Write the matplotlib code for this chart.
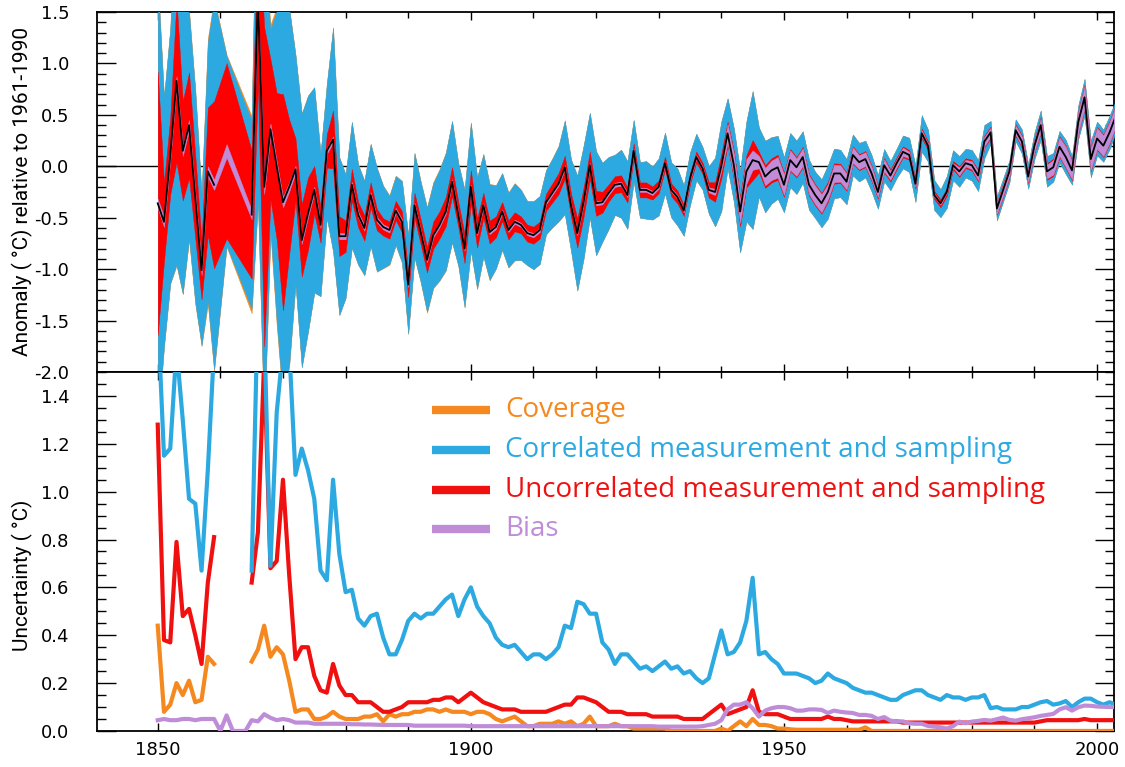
import numpy as np
import matplotlib
matplotlib.use("Agg")
import matplotlib.pyplot as plt
from matplotlib.ticker import MultipleLocator, FormatStrFormatter

plt.rcParams['axes.unicode_minus'] = False
plt.rcParams['font.family'] = ['DejaVu Sans']

nan = np.nan
years = np.arange(1850, 2004)

# global SST anomaly (degC, relative to 1961-1990)
anomaly = [
    -0.36, -0.54, 0.10, 0.83, 0.15, 0.40, -0.30, -1.01, -0.05, -0.18,
    nan, 0.15, nan, nan, nan, -0.47, 1.65, -0.20, 0.36, 0.00,
    -0.35, -0.20, -0.03, -0.72, -0.46, -0.23, -0.57, 0.15, 0.26, -0.68,
    -0.68, -0.18, -0.47, -0.60, -0.28, -0.52, -0.59, -0.62, -0.43, -0.54,
    -1.15, -0.38, -0.64, -0.91, -0.67, -0.57, -0.44, -0.15, -0.47, -0.80,
    -0.20, -0.65, -0.38, -0.64, -0.59, -0.44, -0.62, -0.54, -0.57, -0.65,
    -0.67, -0.62, -0.35, -0.26, -0.17, -0.01, -0.38, -0.65, -0.35, 0.01,
    -0.36, -0.35, -0.26, -0.18, -0.17, -0.28, 0.15, -0.23, -0.23, -0.26,
    -0.20, 0.03, -0.23, -0.30, -0.43, -0.12, 0.09, -0.02, -0.23, -0.25,
    0.00, 0.32, 0.01, -0.44, -0.05, 0.06, 0.04, -0.10, -0.04, -0.01,
    -0.18, 0.06, -0.01, 0.09, -0.18, -0.28, -0.36, -0.25, -0.07, -0.07,
    -0.15, 0.11, 0.04, 0.07, -0.07, -0.25, 0.01, -0.09, 0.03, 0.14,
    0.11, -0.17, 0.32, 0.20, -0.28, -0.36, -0.25, 0.01, -0.05, 0.03,
    0.01, -0.09, 0.24, 0.33, -0.41, -0.23, -0.05, 0.35, 0.24, -0.10,
    0.20, 0.40, -0.05, -0.01, 0.19, 0.09, -0.04, 0.43, 0.67, 0.07,
    0.27, 0.20, 0.33, 0.49,
]

# uncertainty components (degC)
coverage = [
    0.44, 0.08, 0.11, 0.20, 0.15, 0.21, 0.12, 0.13, 0.31, 0.28,
    nan, 0.15, nan, nan, nan, 0.29, 0.34, 0.44, 0.31, 0.35,
    0.32, 0.21, 0.08, 0.09, 0.09, 0.05, 0.05, 0.06, 0.08, 0.06,
    0.05, 0.05, 0.05, 0.06, 0.06, 0.07, 0.04, 0.07, 0.06, 0.07,
    0.07, 0.08, 0.08, 0.09, 0.09, 0.08, 0.09, 0.08, 0.08, 0.08,
    0.07, 0.08, 0.08, 0.07, 0.05, 0.04, 0.05, 0.06, 0.04, 0.02,
    0.02, 0.03, 0.03, 0.03, 0.04, 0.03, 0.04, 0.02, 0.03, 0.06,
    0.02, 0.02, 0.02, 0.03, 0.02, 0.02, 0.01, 0.01, 0.01, 0.01,
    0.01, 0.01, 0.0, 0.0, 0.0, 0.0, 0.0, 0.0, 0.0, 0.0,
    0.01, 0.0, 0.02, 0.04, 0.02, 0.05, 0.025, 0.025, 0.02, 0.01,
    0.01, 0.007, 0.005, 0.005, 0.005, 0.005, 0.005, 0.005, 0.005, 0.005,
    0.005, 0.005, 0.005, 0.015, 0.0, 0.0, 0.0, 0.0, 0.0, 0.0,
    0.0, 0.0, 0.0, 0.0, 0.0, 0.0, 0.0, 0.0, 0.0, 0.0,
    0.0, 0.0, 0.0, 0.0, 0.0, 0.0, 0.0, 0.0, 0.0, 0.0,
    0.0, 0.0, 0.0, 0.0, 0.0, 0.0, 0.0, 0.0, 0.0, 0.0,
    0.0, 0.0, 0.0, 0.0,
]

correlated = [
    1.75, 1.15, 1.18, 1.60, 1.30, 0.97, 0.95, 0.67, 1.09, 1.60,
    nan, 0.35, nan, nan, nan, 0.67, 1.80, 1.70, 0.69, 1.33,
    1.60, 1.60, 1.07, 1.18, 1.09, 0.97, 0.67, 0.63, 1.05, 0.74,
    0.58, 0.59, 0.47, 0.44, 0.48, 0.49, 0.39, 0.32, 0.32, 0.38,
    0.46, 0.49, 0.47, 0.49, 0.49, 0.52, 0.55, 0.57, 0.48, 0.55,
    0.60, 0.52, 0.48, 0.45, 0.39, 0.36, 0.35, 0.36, 0.33, 0.30,
    0.32, 0.32, 0.30, 0.32, 0.35, 0.44, 0.43, 0.54, 0.53, 0.49,
    0.49, 0.37, 0.34, 0.28, 0.32, 0.32, 0.29, 0.26, 0.27, 0.25,
    0.27, 0.29, 0.26, 0.27, 0.24, 0.25, 0.22, 0.20, 0.22, 0.32,
    0.42, 0.32, 0.33, 0.37, 0.46, 0.64, 0.32, 0.33, 0.30, 0.28,
    0.24, 0.24, 0.24, 0.23, 0.22, 0.20, 0.21, 0.24, 0.22, 0.21,
    0.20, 0.18, 0.17, 0.16, 0.16, 0.15, 0.14, 0.13, 0.13, 0.15,
    0.16, 0.17, 0.17, 0.15, 0.14, 0.13, 0.15, 0.14, 0.14, 0.13,
    0.14, 0.14, 0.15, 0.095, 0.10, 0.09, 0.09, 0.09, 0.10, 0.10,
    0.11, 0.12, 0.125, 0.11, 0.115, 0.125, 0.10, 0.12, 0.135, 0.135,
    0.12, 0.11, 0.12, 0.11,
]

uncorrelated = [
    1.28, 0.38, 0.37, 0.79, 0.48, 0.51, 0.40, 0.28, 0.62, 0.81,
    nan, 0.85, nan, nan, nan, 0.62, 0.83, 1.55, 0.68, 0.71,
    1.05, 0.65, 0.30, 0.35, 0.35, 0.23, 0.17, 0.16, 0.28, 0.19,
    0.15, 0.15, 0.12, 0.12, 0.12, 0.10, 0.08, 0.08, 0.09, 0.10,
    0.12, 0.12, 0.12, 0.12, 0.13, 0.13, 0.14, 0.14, 0.12, 0.14,
    0.16, 0.14, 0.12, 0.11, 0.10, 0.09, 0.09, 0.09, 0.08, 0.08,
    0.08, 0.08, 0.08, 0.09, 0.10, 0.11, 0.11, 0.14, 0.14, 0.13,
    0.12, 0.10, 0.08, 0.08, 0.08, 0.07, 0.07, 0.07, 0.07, 0.06,
    0.06, 0.06, 0.06, 0.06, 0.05, 0.05, 0.05, 0.05, 0.07, 0.09,
    0.11, 0.07, 0.08, 0.09, 0.10, 0.17, 0.08, 0.07, 0.07, 0.07,
    0.06, 0.05, 0.05, 0.05, 0.05, 0.05, 0.05, 0.06, 0.05, 0.05,
    0.045, 0.04, 0.04, 0.04, 0.04, 0.04, 0.04, 0.04, 0.04, 0.035,
    0.035, 0.035, 0.035, 0.035, 0.035, 0.035, 0.035, 0.035, 0.035, 0.035,
    0.035, 0.035, 0.035, 0.035, 0.035, 0.035, 0.035, 0.035, 0.035, 0.035,
    0.035, 0.04, 0.045, 0.045, 0.045, 0.045, 0.045, 0.045, 0.05, 0.045,
    0.045, 0.045, 0.045, 0.045,
]

bias = [
    0.045, 0.05, 0.045, 0.045, 0.05, 0.05, 0.045, 0.05, 0.05, 0.05,
    0.0, 0.065, 0.0, 0.0, 0.0, 0.045, 0.04, 0.07, 0.055, 0.045,
    0.05, 0.045, 0.035, 0.035, 0.035, 0.03, 0.03, 0.03, 0.03, 0.03,
    0.03, 0.028, 0.028, 0.027, 0.027, 0.026, 0.025, 0.025, 0.025, 0.025,
    0.025, 0.022, 0.022, 0.022, 0.022, 0.022, 0.022, 0.022, 0.022, 0.022,
    0.02, 0.02, 0.02, 0.02, 0.02, 0.02, 0.02, 0.02, 0.02, 0.02,
    0.02, 0.02, 0.02, 0.02, 0.02, 0.02, 0.02, 0.02, 0.02, 0.02,
    0.02, 0.02, 0.02, 0.02, 0.02, 0.02, 0.02, 0.02, 0.02, 0.02,
    0.018, 0.018, 0.018, 0.018, 0.018, 0.018, 0.018, 0.02, 0.025, 0.03,
    0.045, 0.09, 0.11, 0.11, 0.12, 0.095, 0.06, 0.085, 0.095, 0.10,
    0.10, 0.095, 0.085, 0.085, 0.09, 0.09, 0.088, 0.075, 0.085, 0.08,
    0.077, 0.075, 0.067, 0.067, 0.063, 0.05, 0.058, 0.043, 0.04, 0.04,
    0.032, 0.03, 0.03, 0.021, 0.018, 0.015, 0.01, 0.02, 0.039, 0.032,
    0.039, 0.042, 0.046, 0.043, 0.049, 0.056, 0.046, 0.043, 0.049, 0.053,
    0.057, 0.063, 0.067, 0.071, 0.09, 0.099, 0.085, 0.099, 0.106, 0.105,
    0.102, 0.101, 0.10, 0.10,
]

labels = ["Coverage", "Correlated measurement and sampling",
          "Uncorrelated measurement and sampling", "Bias"]

ORANGE = '#F5891F'
BLUE = '#2DA9E1'
RED = '#F01010'
PURPLE = '#BF8DD8'

anomaly = np.array(anomaly)
coverage = np.array(coverage)
correlated = np.array(correlated)
uncorrelated = np.array(uncorrelated)
bias = np.array(bias)

# years with no central estimate / no component lines
gap = (years >= 1860) & (years <= 1864)

fig = plt.figure(figsize=(11.25, 7.67), dpi=100)
ax1 = fig.add_axes([0.0862, 0.515, 0.904, 0.4694])
ax2 = fig.add_axes([0.0862, 0.047, 0.904, 0.468])

# ---- top panel: anomaly with nested uncertainty ranges ----
ok = np.isfinite(anomaly) & np.isfinite(correlated)
yr = years[ok]
c = anomaly[ok]
b2 = bias[ok] ** 2
u2 = uncorrelated[ok] ** 2
r2 = correlated[ok] ** 2
g2 = coverage[ok] ** 2

ax1.axhline(0, color='black', lw=1.0, zorder=1)
widths = [
    (np.sqrt(b2 + u2 + r2 + g2), ORANGE),
    (np.sqrt(b2 + u2 + r2), BLUE),
    (np.sqrt(b2 + u2), '#FF0000'),
    (np.sqrt(b2), PURPLE),
]
for i, (w, col) in enumerate(widths):
    ax1.fill_between(yr, c - w, c + w, color=col, lw=0.3, edgecolor=col,
                     zorder=2 + i)

line = np.where(gap, np.nan, anomaly)
ax1.plot(years, line, color='black', lw=1.3, zorder=10)

ax1.set_ylim(-2.0, 1.5)
ax1.yaxis.set_major_locator(MultipleLocator(0.5))
ax1.yaxis.set_minor_locator(MultipleLocator(0.1))
ax1.yaxis.set_major_formatter(FormatStrFormatter('%.1f'))
ax1.tick_params(axis='x', labelbottom=False)

# ---- bottom panel: uncertainty components ----
ax2.plot(years, np.where(gap, np.nan, coverage), color=ORANGE, lw=3.0, zorder=3)
ax2.plot(years, np.where(gap, np.nan, uncorrelated), color=RED, lw=3.0, zorder=4)
ax2.plot(years, np.where(gap, np.nan, correlated), color=BLUE, lw=3.0, zorder=5)
ax2.plot(years, bias, color=PURPLE, lw=3.0, zorder=6)

ax2.set_ylim(0, 1.5)
ax2.yaxis.set_major_locator(MultipleLocator(0.2))
ax2.yaxis.set_minor_locator(MultipleLocator(0.05))
ax2.yaxis.set_major_formatter(FormatStrFormatter('%.1f'))

leg_colors = [ORANGE, BLUE, RED, PURPLE]
leg_y = [0.894, 0.783, 0.671, 0.563]
for lab, col, yy in zip(labels, leg_colors, leg_y):
    ax2.plot([0.329, 0.386], [yy, yy], transform=ax2.transAxes, color=col,
             lw=6, solid_capstyle='butt', zorder=8)
    ax2.text(0.401, yy, lab, transform=ax2.transAxes, color=col,
             fontsize=20, va='center', ha='left', family=['Open Sans', 'DejaVu Sans'])

for ax in (ax1, ax2):
    ax.set_xlim(1840.3, 2002.7)
    ax.xaxis.set_major_locator(MultipleLocator(50))
    ax.xaxis.set_minor_locator(MultipleLocator(10))
    ax.tick_params(which='both', direction='in', top=True, right=True,
                   labelsize=13, width=1.0)
    ax.tick_params(axis='y', which='major', length=14, pad=20)
    ax.tick_params(axis='y', which='minor', length=6.5)
    ax.tick_params(axis='x', which='major', length=6, pad=7)
    ax.tick_params(axis='x', which='minor', length=4)
    for sp in ax.spines.values():
        sp.set_linewidth(1.3)

ylab_font = dict(family=['Liberation Sans Narrow', 'Roboto', 'DejaVu Sans'], fontsize=15)
fig.text(22 / 1125, 1 - 192 / 767, "Anomaly ( °C) relative to 1961-1990",
         rotation=90, va='center', ha='center', **ylab_font)
fig.text(22 / 1125, 1 - 575 / 767, "Uncertainty ( °C)",
         rotation=90, va='center', ha='center', **ylab_font)

fig.savefig("out.png", dpi=100)
